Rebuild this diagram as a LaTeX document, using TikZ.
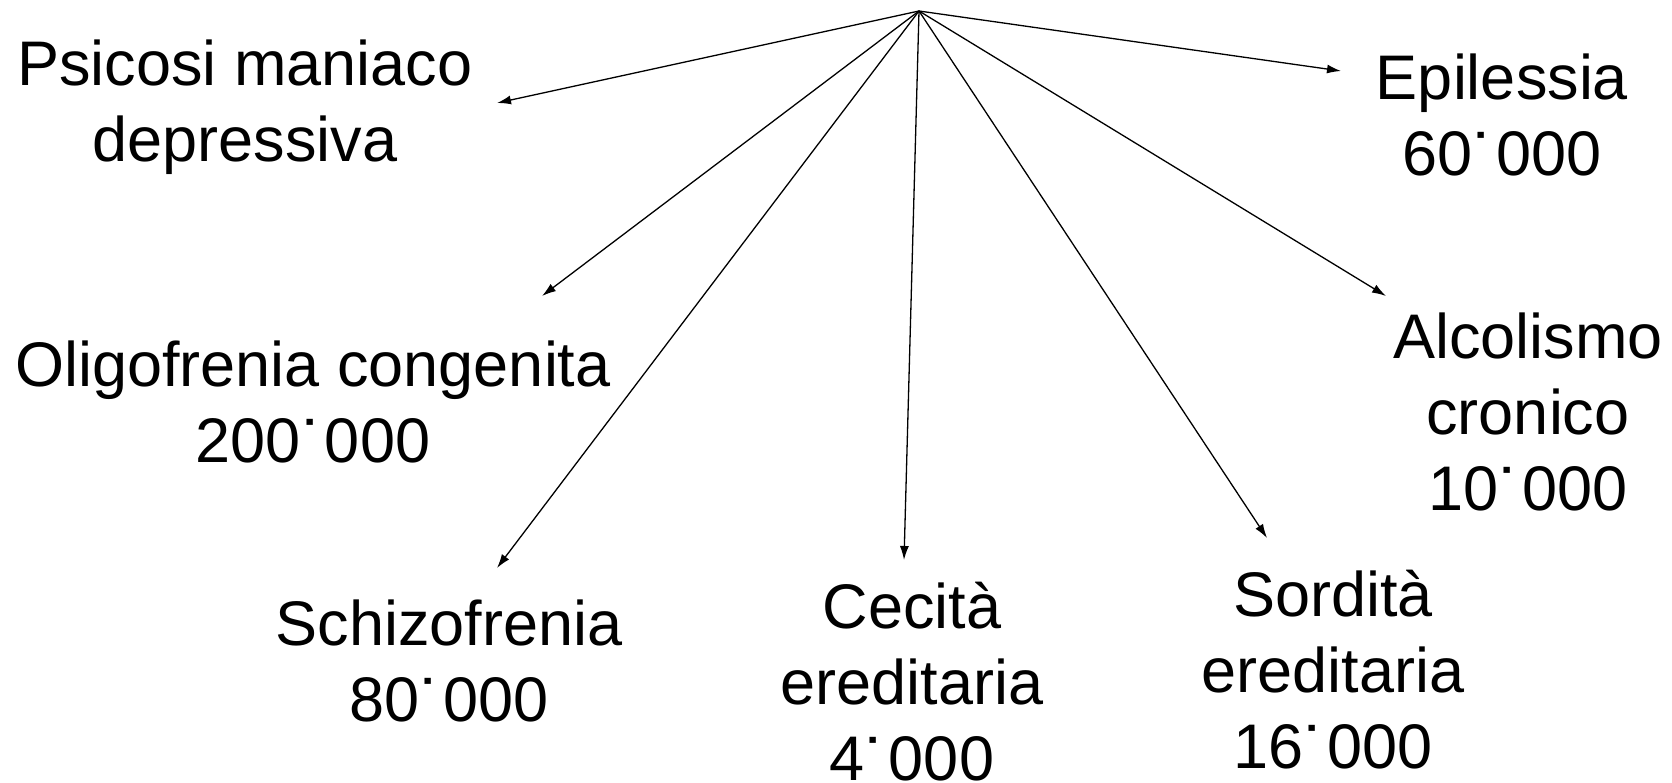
\documentclass[tikz,border=0pt]{standalone}
\usepackage{fontspec}
\setmainfont{Liberation Sans}
\usetikzlibrary{arrows.meta}
\newcommand\thdot{\raisebox{-9pt}{\fontsize{72}{76}\selectfont ˙}}
\begin{document}
\begin{tikzpicture}[x=1pt,y=-1pt,
  lbl/.style={align=center,anchor=base,inner sep=0pt,font=\fontsize{63}{76}\selectfont},
  arr/.style={line width=1.3pt,-{Latex[length=14pt,width=9pt]}}]
\useasboundingbox (0,0) rectangle (1672,783);
\coordinate (src) at (919,11);
\coordinate (ePsi) at (497,103);
\coordinate (eOli) at (542,296);
\coordinate (eSch) at (497,568);
\coordinate (eCec) at (904,560);
\coordinate (eSor) at (1267,538);
\coordinate (eAlc) at (1386,296);
\coordinate (eEpi) at (1341,71);
\node[lbl] (psi) at (245,162) {Psicosi maniaco\\depressiva};
\node[lbl] (epi) at (1502,176) {Epilessia\\60\thdot000};
\node[lbl] (oli) at (313,462) {Oligofrenia congenita\\200\thdot000};
\node[lbl] (alc) at (1528,510) {Alcolismo\\cronico\\10\thdot000};
\node[lbl] (sch) at (449,721) {Schizofrenia\\80\thdot000};
\node[lbl] (cec) at (912,780) {Cecità\\ereditaria\\4\thdot000};
\node[lbl] (sor) at (1333,768) {Sordità\\ereditaria\\16\thdot000};
\foreach \e in {ePsi,eOli,eSch,eCec,eSor,eAlc,eEpi}
  \draw[arr] (src) -- (\e);
\end{tikzpicture}
\end{document}
